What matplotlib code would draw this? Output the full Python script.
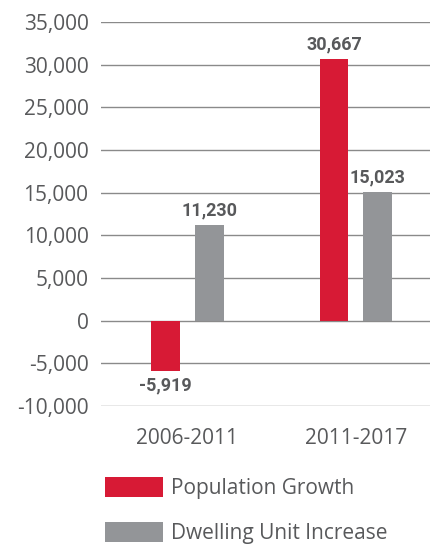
import matplotlib.pyplot as plt
import numpy as np

periods = ['2006-2011', '2011-2017']
population_growth = [-5919, 30667]
dwelling_increase = [11230, 15023]
series_names = ['Population Growth', 'Dwelling Unit Increase']
yticks = list(range(-10000, 35001, 5000))

red = '#d71a35'
grey = '#939598'
txt = '#58595b'

fig = plt.figure(figsize=(4.47, 5.48), dpi=100)
ax = fig.add_axes([0.226, 0.259, 0.736, 0.701])

x = np.arange(len(periods))
w = 0.172
off = 0.13
b1 = ax.bar(x - off, population_growth, w, color=red, label=series_names[0])
b2 = ax.bar(x + off, dwelling_increase, w, color=grey, label=series_names[1])

for bars in (b1, b2):
    for bar in bars:
        v = bar.get_height()
        cx = bar.get_x() + bar.get_width() / 2
        ax.annotate(f'{v:,.0f}', (cx, v), xytext=(0, 4 if v >= 0 else -4),
                    textcoords='offset points', ha='center',
                    va='bottom' if v >= 0 else 'top',
                    fontsize=13, fontweight='bold', color=txt,
                    family='Roboto')

ax.set_ylim(-10000, 35000)
ax.set_xlim(-0.513, 1.44)
ax.set_yticks(yticks)
ax.set_yticklabels([f'{t:,}' for t in yticks])
ax.set_xticks(x)
ax.set_xticklabels(periods)
ax.tick_params(length=0, labelsize=15, labelcolor=txt, pad=9)
ax.tick_params(axis='x', pad=16)
for lab in ax.get_xticklabels() + ax.get_yticklabels():
    lab.set_family('Open Sans')
ax.yaxis.grid(True, color='#8a8a8a', linewidth=1)
ax.set_axisbelow(True)
for s in ax.spines.values():
    s.set_visible(False)

fig.legend(handles=[b1, b2], loc='upper left', bbox_to_anchor=(0.235, 0.13),
           frameon=False, handlelength=2.8, handleheight=1.1,
           labelspacing=1.12, handletextpad=0.35, borderpad=0, borderaxespad=0,
           prop={'family': 'Open Sans', 'size': 15}, labelcolor=txt)

fig.savefig('out.png', dpi=100)
